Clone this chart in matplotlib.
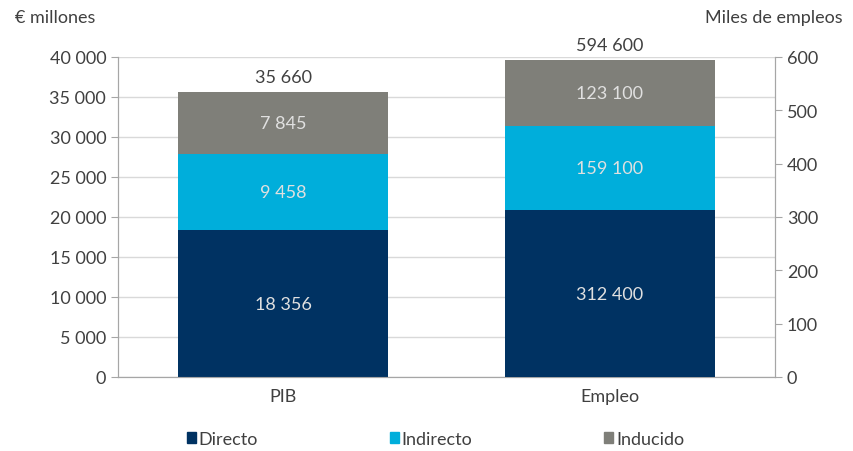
import matplotlib.pyplot as plt

plt.rcParams['font.family'] = ['Lato', 'DejaVu Sans']

categories = ['PIB', 'Empleo']
series = ['Directo', 'Indirecto', 'Inducido']
pib = [18356, 9458, 7845]          # € millones
empleo = [312.4, 159.1, 123.1]     # miles de empleos
pib_labels = ['18 356', '9 458', '7 845']
empleo_labels = ['312 400', '159 100', '123 100']
totals = ['35 660', '594 600']
left_ticks = [0, 5000, 10000, 15000, 20000, 25000, 30000, 35000, 40000]
right_ticks = [0, 100, 200, 300, 400, 500, 600]

colors = ['#003262', '#00AEDB', '#7F7F79']
text_col = '#404040'
grid_col = '#D9D9D9'
spine_col = '#A6A6A6'
fs = 13


def fmt(v):
    return '{:,}'.format(v).replace(',', ' ')


fig = plt.figure(figsize=(8.54, 4.52), dpi=100)
ax = fig.add_axes([118 / 854, 74 / 452, 657 / 854, 320 / 452])
ax2 = ax.twinx()

width = 0.645
bottom = 0
for val, lab, col in zip(pib, pib_labels, colors):
    ax.bar(0, val, width, bottom=bottom, color=col, zorder=3)
    ax.text(0, bottom + val / 2, lab, ha='center', va='center',
            color='#E0E0E0', fontsize=fs)
    bottom += val
ax.text(0, bottom + 800, totals[0], ha='center', va='bottom',
        color=text_col, fontsize=fs)

bottom = 0
for val, lab, col in zip(empleo, empleo_labels, colors):
    ax2.bar(1, val, width, bottom=bottom, color=col, zorder=3)
    ax2.text(1, bottom + val / 2, lab, ha='center', va='center',
             color='#E0E0E0', fontsize=fs)
    bottom += val
ax2.text(1, bottom + 12, totals[1], ha='center', va='bottom',
         color=text_col, fontsize=fs)

ax.set_xlim(-0.505, 1.505)
ax.set_ylim(0, 40000)
ax2.set_ylim(0, 600)
ax.set_yticks(left_ticks)
ax.set_yticklabels([fmt(t) for t in left_ticks])
ax2.set_yticks(right_ticks)
ax2.set_yticklabels([fmt(t) for t in right_ticks])
ax.set_xticks([0, 1])
ax.set_xticklabels(categories)

ax.yaxis.grid(True, color=grid_col, linewidth=1, zorder=0)
ax.set_axisbelow(True)

for a in (ax, ax2):
    a.spines['top'].set_visible(False)
    for s in ('left', 'right', 'bottom'):
        a.spines[s].set_color(spine_col)
    a.tick_params(axis='both', colors=spine_col, labelcolor=text_col,
                  labelsize=fs, length=5)
ax.tick_params(axis='x', length=0, pad=8)
ax2.tick_params(axis='x', length=0)

fig.text(15 / 854, 1 - 18 / 452, '€ millones', ha='left', va='center',
         color=text_col, fontsize=fs)
fig.text(843 / 854, 1 - 18 / 452, 'Miles de empleos', ha='right', va='center',
         color=text_col, fontsize=fs)

handles = [plt.Rectangle((0, 0), 1, 1, color=c) for c in colors]
leg = fig.legend(handles, series, loc='center', ncol=3,
                 bbox_to_anchor=(0.51, 1 - 440 / 452), frameon=False,
                 fontsize=fs, handlelength=0.5, handleheight=0.5,
                 handletextpad=0.15, columnspacing=7.3)
for t in leg.get_texts():
    t.set_color(text_col)

fig.savefig('out.png', dpi=100)
